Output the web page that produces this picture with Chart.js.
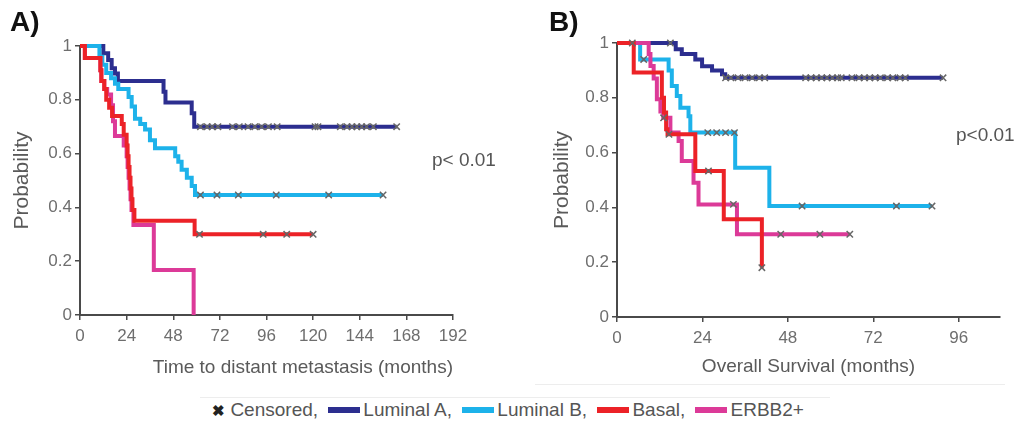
<!DOCTYPE html>
<html>
<head>
<meta charset="utf-8">
<script src="https://cdn.jsdelivr.net/npm/chart.js@4.4.1/dist/chart.umd.min.js"></script>
<style>
body { margin: 0; background: #fff; width: 1016px; height: 434px; overflow: hidden; position: relative; font-family: "Liberation Sans", Arial, sans-serif; }
.wrap { position: absolute; top: 0; }
.lbl { position: absolute; font-weight: bold; font-size: 28px; line-height: 1; color: #111; }
.pval { position: absolute; font-size: 19px; line-height: 1; color: #555; white-space: nowrap; }
#legend { position: absolute; top: 400px; left: 0; width: 1016px; text-align: center; font-size: 19px; line-height: 1; color: #555; white-space: nowrap; }
#legend .x { color: #222; font-weight: bold; font-size: 15px; }
.sw { display: inline-block; width: 32px; height: 6px; vertical-align: middle; margin: 0 3px 0 5px; position: relative; top: -1px; }
.faint { position: absolute; height: 1px; background: #ededed; }
</style>
</head>
<body>
<div class="wrap" style="left:0"><canvas id="chartA" width="520" height="390"></canvas></div>
<div class="wrap" style="left:520px"><canvas id="chartB" width="496" height="390"></canvas></div>
<div class="faint" style="left:535px;width:470px;top:384px"></div>
<div class="faint" style="left:200px;width:630px;top:397px"></div>
<div class="lbl" style="left:10px;top:8px">A)</div>
<div class="lbl" style="left:549px;top:8px">B)</div>
<div class="pval" style="left:432px;top:150px">p&lt; 0.01</div>
<div class="pval" style="left:956px;top:125px">p&lt;0.01</div>
<div id="legend"></div>
<script>
// colours of the four subtypes
const groupNames = ["Luminal A", "Luminal B", "Basal", "ERBB2+"];
const groupColors = ["#2c2e8f", "#1db2ea", "#ec2227", "#dc3a98"];

// ---- panel A: time to distant metastasis (months) ----
const aLumATime = [0, 12, 14.5, 16.3, 18, 19.5, 43, 44, 57.5, 58.8, 163];
const aLumAProb = [1, 0.973, 0.948, 0.917, 0.898, 0.87, 0.83, 0.79, 0.75, 0.70, 0.70];
const aLumACens = [62, 65.5, 68, 71, 78.5, 82, 86.5, 90, 93.5, 97, 101.5, 121, 122.5, 134, 137.5, 140, 142.5, 145, 147.5, 151, 163];

const aLumBTime = [0, 10, 11.5, 13.5, 16, 18, 19.7, 25, 26.6, 28.3, 31, 33.5, 36, 38.6, 49, 50.6, 52.3, 55, 57.5, 59.2, 156];
const aLumBProb = [1, 0.96, 0.93, 0.90, 0.88, 0.86, 0.84, 0.81, 0.775, 0.73, 0.71, 0.69, 0.65, 0.62, 0.59, 0.57, 0.54, 0.51, 0.48, 0.446, 0.446];
const aLumBCens = [62, 70.5, 81.5, 101, 128, 156];

const aBasalTime = [0, 2.5, 10.5, 11, 12.5, 13.5, 15, 16.5, 21.5, 22.5, 24, 24.5, 25, 25.5, 26, 26.5, 27, 28, 59, 120];
const aBasalProb = [1, 0.955, 0.91, 0.87, 0.84, 0.80, 0.77, 0.74, 0.71, 0.67, 0.63, 0.59, 0.55, 0.51, 0.47, 0.43, 0.39, 0.35, 0.30, 0.30];
const aBasalCens = [61.5, 94.3, 106.4, 120];

const aErbbTime = [0, 2.5, 10.5, 11, 12.5, 14, 16, 17, 18, 22.5, 24, 24.5, 25, 25.5, 26, 26.5, 27.5, 38, 58.5];
const aErbbProb = [1, 0.955, 0.91, 0.87, 0.84, 0.82, 0.78, 0.72, 0.665, 0.63, 0.59, 0.55, 0.51, 0.47, 0.43, 0.39, 0.335, 0.167, 0];
const aErbbCens = [];

// ---- panel B: overall survival (months) ----
const bLumATime = [0, 16.5, 18.2, 22, 23.9, 26.7, 29.5, 30.4, 91.6];
const bLumAProb = [1, 0.977, 0.96, 0.94, 0.915, 0.90, 0.886, 0.873, 0.873];
const bLumACens = [4.3, 15, 30.5, 32, 34, 36, 38, 40, 41.5, 53, 54.5, 56, 57.5, 59, 60.5, 62, 63, 66, 68, 69.5, 71, 72.5, 74, 76, 77.5, 79.5, 81, 91.6];

const bLumBTime = [0, 6.5, 14.5, 15.4, 16.8, 17.8, 20.1, 20.6, 33.2, 42.8, 88.5];
const bLumBProb = [1, 0.94, 0.90, 0.843, 0.807, 0.764, 0.733, 0.673, 0.545, 0.405, 0.405];
const bLumBCens = [7.5, 25.5, 28, 30.5, 33, 52, 78.5, 88.5];

const bBasalTime = [0, 4.7, 12.6, 13.2, 13.8, 14.2, 22, 30, 40.7];
const bBasalProb = [1, 0.892, 0.80, 0.746, 0.685, 0.667, 0.533, 0.357, 0.18];
const bBasalCens = [14.6, 25.7, 40.7];

const bErbbTime = [0, 8.9, 9.4, 10.3, 11.2, 12.2, 13, 15, 17.3, 18.2, 21.5, 22.9, 33.7, 65.4];
const bErbbProb = [1, 0.96, 0.916, 0.87, 0.795, 0.75, 0.727, 0.673, 0.642, 0.569, 0.49, 0.411, 0.302, 0.302];
const bErbbCens = [13.1, 32.7, 46, 57, 65.4];

const fam = '"Liberation Sans", Arial, sans-serif';
const tickCol = '#6e6e6e';
const axisCol = '#4a4a4a';
const titleCol = '#5a5a5a';

// survival value of a step curve at time t
function survAt(times, probs, t) {
    var p = probs[0];
    for (var i = 0; i < times.length; i++) { if (times[i] <= t) p = probs[i]; }
    return p;
}

function makePanel(id, groups, xMax, xTitle, cfg) {
    var datasets = [];
    var cens = [];
    groups.forEach(g => g[2].forEach(t => cens.push({x: t, y: survAt(g[0], g[1], t)})));
    // censored marks on top
    datasets.push({
        type: 'scatter', label: 'Censored', data: cens, order: 0, clip: false,
        pointStyle: 'crossRot', pointRadius: 4.5, borderColor: '#666', borderWidth: 1.5, backgroundColor: '#666'
    });
    // draw order: Basal over ERBB2+ over Luminal B over Luminal A
    var drawOrder = [4, 3, 1, 2];
    groups.forEach((g, i) => {
        datasets.push({
            type: 'line', label: groupNames[i], order: drawOrder[i], clip: false,
            data: g[0].map((t, k) => ({x: t, y: g[1][k]})),
            stepped: 'before', borderColor: groupColors[i], borderWidth: 4,
            pointRadius: 0, fill: false, borderCapStyle: 'butt', borderJoinStyle: 'miter'
        });
    });

    new Chart(id, {
        data: {datasets: datasets},
        options: {
            responsive: false,
            animation: false,
            layout: {padding: cfg.padding},
            plugins: {legend: {display: false}, tooltip: {enabled: false}},
            scales: {
                x: {
                    type: 'linear', min: 0, max: xMax,
                    ticks: {stepSize: 24, includeBounds: false, color: tickCol, font: {size: 17, family: fam}, padding: 6, maxRotation: 0},
                    grid: {drawOnChartArea: false, drawTicks: true, tickLength: 5, color: axisCol, lineWidth: 1.5},
                    border: {display: true, color: axisCol, width: 2},
                    title: {display: true, text: xTitle, color: titleCol, font: {size: 19, family: fam}, align: cfg.xAlign, padding: {top: 0, bottom: cfg.xTitlePad}},
                    afterFit: s => { s.height = 70; }
                },
                y: {
                    type: 'linear', min: 0, max: 1,
                    ticks: {stepSize: 0.2, color: tickCol, font: {size: 17, family: fam}, padding: 3,
                        callback: v => (v === 0 || v === 1) ? String(v) : v.toFixed(1)},
                    grid: {drawOnChartArea: false, drawTicks: true, tickLength: 5, color: axisCol, lineWidth: 1.5},
                    border: {display: true, color: axisCol, width: 2},
                    title: {display: true, text: 'Probability', color: titleCol, font: {size: 21, family: fam}, padding: {top: cfg.yTitlePad, bottom: 0}},
                    afterFit: s => { s.width = 80; }
                }
            }
        }
    });
}

makePanel('chartA', [
    [aLumATime, aLumAProb, aLumACens],
    [aLumBTime, aLumBProb, aLumBCens],
    [aBasalTime, aBasalProb, aBasalCens],
    [aErbbTime, aErbbProb, aErbbCens]
], 192, 'Time to distant metastasis (months)',
    {padding: {left: 0, right: 67, top: 46, bottom: 5}, xAlign: 'end', xTitlePad: 5.5, yTitlePad: 9.5});

makePanel('chartB', [
    [bLumATime, bLumAProb, bLumACens],
    [bLumBTime, bLumBProb, bLumBCens],
    [bBasalTime, bBasalProb, bBasalCens],
    [bErbbTime, bErbbProb, bErbbCens]
], 107.6, 'Overall Survival (months)',
    {padding: {left: 17, right: 16, top: 43, bottom: 3}, xAlign: 'center', xTitlePad: 9, yTitlePad: 12.5});

// shared legend under both panels
var html = '<span class="x">&#x2716;</span> Censored,';
groupNames.forEach((n, i) => {
    html += ' <span class="sw" style="background:' + groupColors[i] + '"></span>' + n + (i < groupNames.length - 1 ? ',' : '');
});
document.getElementById('legend').innerHTML = html;
</script>
</body>
</html>
